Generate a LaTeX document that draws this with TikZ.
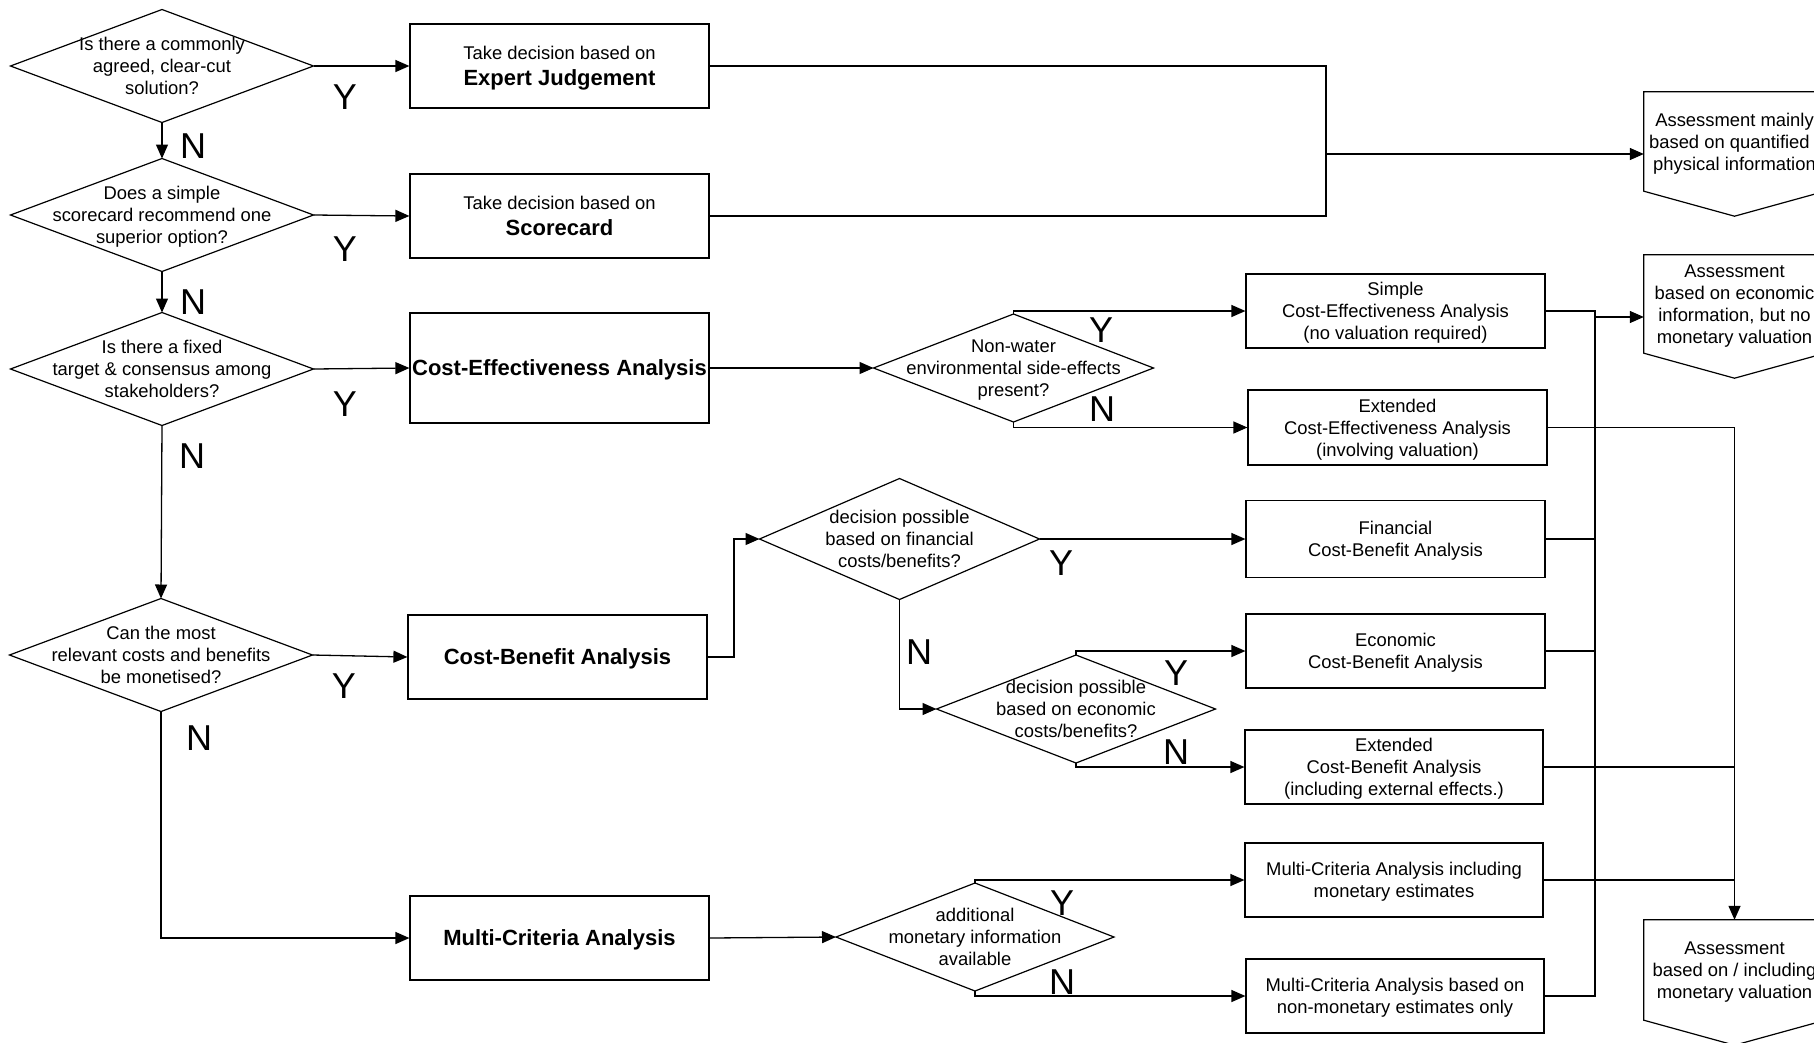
\documentclass[tikz,border=0pt]{standalone}
\usepackage{fontspec}
\setmainfont{Liberation Sans}
\usetikzlibrary{shapes.geometric, arrows.meta, calc}

\newcommand{\bigb}{\fontsize{22}{26}\selectfont\bfseries}
\tikzset{
  txt/.style={font=\fontsize{18.4}{22}\selectfont, align=center, inner sep=0pt, text depth=0pt},
  box/.style={draw, line width=1.2pt, rectangle, minimum width=299pt, minimum height=84pt, txt},
  query/.style={draw, line width=1.2pt, diamond, inner sep=0pt, outer sep=0pt},
  yn/.style={font=\fontsize{36}{40}\selectfont, inner sep=0pt},
  assess/.style={rectangle, minimum width=181pt, txt, text depth=-6pt},
  line/.style={draw, line width=1.3pt},
  flow/.style={line, -{Triangle[length=14pt,width=12pt]}},
}

\begin{document}
\begin{tikzpicture}[x=1pt,y=1pt,yscale=-1]
\useasboundingbox (0,0) rectangle (1814,1042);
\clip (0,0) rectangle (1814,1042);

%Shape: Diamond, left column
\node[query, minimum width=303pt, minimum height=113pt] (d1) at (162,66) {};
\node[query, minimum width=303pt, minimum height=113pt] (d2) at (162,215) {};
\node[query, minimum width=303pt, minimum height=113pt] (d3) at (162,369) {};
\node[query, minimum width=303pt, minimum height=113pt] (d4) at (161,655) {};
% Text Node
\node[txt] (d1q) at (d1) {Is there a commonly\\agreed, clear-cut\\solution?};
\node[txt] (d2q) at (d2) {Does a simple\\scorecard recommend one\\superior option?};
\node[txt] (d3q) at (d3) {Is there a fixed\\target \& consensus among\\stakeholders?};
\node[txt] (d4q) at (d4) {Can the most\\relevant costs and benefits\\be monetised?};

%Shape: Rectangle, methods
\node[box] (b1) at (559.5,66) {Take decision based on\\[4.5pt]{\bigb Expert Judgement}};
\node[box] (b2) at (559.5,216) {Take decision based on\\[4.5pt]{\bigb Scorecard}};
\node[box, minimum height=110pt] (b3) at (559.5,368) {\bigb Cost-Effectiveness Analysis};
\node[box] (b4) at (557.5,657) {\bigb Cost-Benefit Analysis};
\node[box] (b5) at (559.5,938) {\bigb Multi-Criteria Analysis};

%Shape: Diamond, second level
\node[query, minimum width=280pt, minimum height=108pt] (dw) at (1013.5,368) {};
\node[query, minimum width=280pt, minimum height=121pt] (df) at (899.5,539) {};
\node[query, minimum width=279pt, minimum height=108pt] (de) at (1076,709) {};
\node[query, minimum width=278pt, minimum height=108pt] (am) at (975,937) {};
% Text Node
\node[txt] (dwq) at (dw) {Non-water\\environmental side-effects\\present?};
\node[txt] (dfq) at (df) {decision possible\\based on financial\\costs/benefits?};
\node[txt] (deq) at (de) {decision possible\\based on economic\\costs/benefits?};
\node[txt] (amq) at (am) {additional\\monetary information\\available};

%Shape: Rectangle, results
\node[box, minimum height=74pt] (sc) at (1395.5,311) {Simple\\Cost-Effectiveness Analysis\\(no valuation required)};
\node[box, minimum height=75pt] (ec) at (1397.5,427.5) {Extended\\Cost-Effectiveness Analysis\\(involving valuation)};
\node[box, minimum height=77pt] (fc) at (1395.5,539) {Financial\\Cost-Benefit Analysis};
\node[box, minimum height=74pt] (eco) at (1395.5,651) {Economic\\Cost-Benefit Analysis};
\node[box, minimum width=298pt, minimum height=74pt] (xc) at (1394,767) {Extended\\Cost-Benefit Analysis\\(including external effects.)};
\node[box, minimum width=298pt, minimum height=74pt] (mi) at (1394,880) {Multi-Criteria Analysis including\\monetary estimates};
\node[box, minimum width=298pt, minimum height=74pt] (mn) at (1395,996) {Multi-Criteria Analysis based on\\non-monetary estimates only};

%Shape: Pentagon, assessments
\node[assess, minimum height=99pt] (a1) at (1734.5,141.5) {Assessment mainly\\based on quantified /\\physical information};
\node[assess, minimum height=98pt] (a2) at (1734.5,304) {Assessment\\based on economic\\information, but no\\monetary valuation};
\node[assess, minimum height=100pt] (a3) at (1734.5,970) {Assessment\\based on / including\\monetary valuation};
\foreach \a in {a1,a2,a3}
  \draw[line width=1.2pt] (\a.north west) -- (\a.north east) -- (\a.south east)
    -- ($(\a.south)+(0,25)$) -- (\a.south west) -- cycle;

%Straight Lines, left column
\draw[flow] (d1.south) -- (d2.north);
\draw[flow] (d2.south) -- (d3.north);
\draw[flow] (d3.south) -- (d4.north);
\draw[flow] (d4.south) |- (b5.west);
\draw[flow] (d1.east) -- (b1.west);
\draw[flow] (d2.east) -- (b2.west);
\draw[flow] (d3.east) -- (b3.west);
\draw[flow] (d4.east) -- (b4.west);

%Straight Lines, top
\coordinate (topbus) at (1326,154);
\draw[line] (b1.east) -| (topbus) |- (b2.east);
\draw[flow] (topbus) -- (topbus -| a1.west);

%Straight Lines, middle
\coordinate (cbk) at (734,657);
\draw[flow] (b3.east) -- (dw.west);
\draw[flow] (dw.north) |- (sc.west);
\draw[flow] (dw.south) |- (ec.west);
\draw[flow] (b4.east) -- (cbk) |- (df.west);
\draw[flow] (df.east) -- (fc.west);
\draw[flow] (df.south) |- (de.west);
\draw[flow] (de.north) |- (eco.west);
\draw[flow] (de.south) |- (xc.west);
\draw[flow] (b5.east) -- (am.west);
\draw[flow] (am.north) |- (mi.west);
\draw[flow] (am.south) |- (mn.west);

%Straight Lines, right
\coordinate (bus) at (1595,317);
\draw[line] (sc.east) -| (bus) |- (mn.east);
\draw[line] (fc.east) -- (fc.east -| bus);
\draw[line] (eco.east) -- (eco.east -| bus);
\draw[flow] (bus) -- (bus -| a2.west);
\draw[flow] (ec.east) -| (a3.north);
\draw[line] (xc.east) -- (xc.east -| a3.north);
\draw[line] (mi.east) -- (mi.east -| a3.north);

% Text Node, Y and N
\node[yn] (y1) at (345,97) {Y};
\node[yn] (y2) at (345,249) {Y};
\node[yn] (y3) at (345,404) {Y};
\node[yn] (y4) at (344,686) {Y};
\node[yn] (n1) at (193,146) {N};
\node[yn] (n2) at (193,302) {N};
\node[yn] (n3) at (192,456) {N};
\node[yn] (n4) at (199,738) {N};
\node[yn] (yw) at (1101,330) {Y};
\node[yn] (nw) at (1102,409) {N};
\node[yn] (yf) at (1061,563) {Y};
\node[yn] (nf) at (919,652) {N};
\node[yn] (ye) at (1176,673) {Y};
\node[yn] (ne) at (1176,752) {N};
\node[yn] (ym) at (1062,903) {Y};
\node[yn] (nm) at (1062,982) {N};
\end{tikzpicture}
\end{document}
